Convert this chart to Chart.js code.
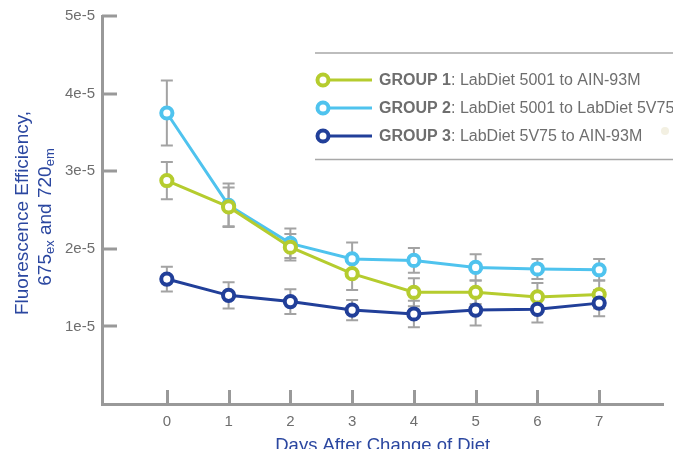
<!DOCTYPE html>
<html>
<head>
<meta charset="utf-8">
<script src="https://cdn.jsdelivr.net/npm/chart.js@4.4.0/dist/chart.umd.min.js"></script>
<style>
  html, body { margin: 0; padding: 0; background: #fff; }
  canvas { display: block; }
</style>
</head>
<body>
<canvas id="line-chart" width="673" height="449"></canvas>
<script>
var days = [0, 1, 2, 3, 4, 5, 6, 7];
var groupNames = ['GROUP 1', 'GROUP 2', 'GROUP 3'];
var groupDiets = [': LabDiet 5001 to AIN-93M', ': LabDiet 5001 to LabDiet 5V75', ': LabDiet 5V75 to AIN-93M'];
var group1 = [2.88e-5, 2.54e-5, 2.02e-5, 1.68e-5, 1.44e-5, 1.44e-5, 1.38e-5, 1.41e-5];
var group1Err = [0.24e-5, 0.25e-5, 0.17e-5, 0.21e-5, 0.18e-5, 0.15e-5, 0.18e-5, 0.18e-5];
var group2 = [3.75e-5, 2.56e-5, 2.07e-5, 1.87e-5, 1.85e-5, 1.76e-5, 1.74e-5, 1.73e-5];
var group2Err = [0.42e-5, 0.28e-5, 0.19e-5, 0.21e-5, 0.16e-5, 0.17e-5, 0.13e-5, 0.14e-5];
var group3 = [1.61e-5, 1.40e-5, 1.32e-5, 1.21e-5, 1.16e-5, 1.21e-5, 1.22e-5, 1.30e-5];
var group3Err = [0.16e-5, 0.17e-5, 0.16e-5, 0.13e-5, 0.17e-5, 0.20e-5, 0.17e-5, 0.17e-5];
var yTicks = [1e-5, 2e-5, 3e-5, 4e-5, 5e-5];
var yTickLabels = ['1e-5', '2e-5', '3e-5', '4e-5', '5e-5'];

var colors = ['#b5cc2e', '#4fc3ee', '#213f99'];
var axisGrey = '#999999';
var textGrey = '#6e6e6e';
var titleBlue = '#2b47a0';
var font = "'Liberation Sans', Arial, Helvetica, sans-serif";

var series = [group1, group2, group3];
var errors = [group1Err, group2Err, group3Err];
var drawOrder = [1, 2, 0]; // group 3 on top, then group 1

function points(vals) {
    return days.map(function (d, i) { return { x: d, y: vals[i] }; });
}

var decorations = {
    id: 'decorations',
    beforeDatasetsDraw: function (chart) {
        var ctx = chart.ctx, x = chart.scales.x, y = chart.scales.y;
        ctx.save();
        ctx.strokeStyle = '#a3a3a3';
        ctx.lineWidth = 2;
        for (var s = 0; s < series.length; s++) {
            for (var i = 0; i < days.length; i++) {
                var px = x.getPixelForValue(days[i]);
                var top = y.getPixelForValue(series[s][i] + errors[s][i]);
                var bot = y.getPixelForValue(series[s][i] - errors[s][i]);
                ctx.beginPath();
                ctx.moveTo(px, top); ctx.lineTo(px, bot);
                ctx.moveTo(px - 6, top); ctx.lineTo(px + 6, top);
                ctx.moveTo(px - 6, bot); ctx.lineTo(px + 6, bot);
                ctx.stroke();
            }
        }
        ctx.restore();
    },
    afterDraw: function (chart) {
        var ctx = chart.ctx, x = chart.scales.x, y = chart.scales.y;
        var area = chart.chartArea;
        ctx.save();
        // inside ticks
        ctx.strokeStyle = axisGrey;
        ctx.lineWidth = 3;
        yTicks.forEach(function (v) {
            var py = Math.round(y.getPixelForValue(v));
            ctx.beginPath(); ctx.moveTo(area.left, py); ctx.lineTo(area.left + 15, py); ctx.stroke();
        });
        days.forEach(function (d) {
            var px = Math.round(x.getPixelForValue(d)) + 0.5;
            ctx.beginPath(); ctx.moveTo(px, area.bottom); ctx.lineTo(px, area.bottom - 14); ctx.stroke();
        });

        // y axis title
        ctx.fillStyle = titleBlue;
        ctx.textBaseline = 'alphabetic';
        ctx.save();
        ctx.translate(27.5, 213);
        ctx.rotate(-Math.PI / 2);
        ctx.font = '19px ' + font;
        ctx.textAlign = 'center';
        ctx.fillText('Fluorescence Efficiency,', 0, 0);
        ctx.restore();

        var parts = [['675', false], ['ex', true], [' and 720', false], ['em', true]];
        ctx.save();
        ctx.translate(51, 217);
        ctx.rotate(-Math.PI / 2);
        ctx.textAlign = 'left';
        var total = 0;
        parts.forEach(function (p) {
            ctx.font = (p[1] ? '13px ' : '19px ') + font;
            total += ctx.measureText(p[0]).width;
        });
        var cx = -total / 2;
        parts.forEach(function (p) {
            ctx.font = (p[1] ? '13px ' : '19px ') + font;
            ctx.fillText(p[0], cx, p[1] ? 3 : 0);
            cx += ctx.measureText(p[0]).width;
        });
        ctx.restore();

        // x axis title
        ctx.font = '18.5px ' + font;
        ctx.textAlign = 'center';
        ctx.fillText('Days After Change of Diet', (area.left + area.right) / 2, 451);

        // legend
        ctx.strokeStyle = '#a8a8a8';
        ctx.lineWidth = 1.5;
        ctx.beginPath();
        ctx.moveTo(315, 53); ctx.lineTo(673, 53);
        ctx.moveTo(315, 159.5); ctx.lineTo(673, 159.5);
        ctx.stroke();
        var rows = [80, 108, 136];
        for (var k = 0; k < groupNames.length; k++) {
            var ry = rows[k];
            ctx.strokeStyle = colors[k];
            ctx.lineWidth = 3;
            ctx.beginPath(); ctx.moveTo(323, ry); ctx.lineTo(372, ry); ctx.stroke();
            ctx.lineWidth = 4;
            ctx.fillStyle = '#fff';
            ctx.beginPath(); ctx.arc(323, ry, 5.5, 0, Math.PI * 2); ctx.fill(); ctx.stroke();
            ctx.fillStyle = textGrey;
            ctx.textAlign = 'left';
            ctx.textBaseline = 'middle';
            ctx.font = 'bold 16px ' + font;
            ctx.fillText(groupNames[k], 379, ry + 0.5);
            var w = ctx.measureText(groupNames[k]).width;
            ctx.font = '16px ' + font;
            ctx.fillText(groupDiets[k], 379 + w, ry + 0.5);
        }
        ctx.fillStyle = '#f3f0e2';
        ctx.beginPath(); ctx.arc(665, 131, 4, 0, Math.PI * 2); ctx.fill();
        ctx.restore();
    }
};

new Chart(document.getElementById('line-chart').getContext('2d'), {
    type: 'line',
    data: {
        datasets: series.map(function (vals, i) {
            return {
                label: groupNames[i],
                data: points(vals),
                borderColor: colors[i],
                borderWidth: 3,
                pointBackgroundColor: '#ffffff',
                pointBorderColor: colors[i],
                pointBorderWidth: 4,
                pointRadius: 5.6,
                tension: 0,
                order: drawOrder[i]
            };
        })
    },
    options: {
        responsive: false,
        animation: false,
        events: [],
        layout: { padding: { top: 16, right: 0, left: 0, bottom: 0 } },
        plugins: { legend: { display: false }, tooltip: { enabled: false } },
        scales: {
            x: {
                type: 'linear',
                min: -1.05,
                max: 8.04,
                afterBuildTicks: function (s) { s.ticks = days.map(function (d) { return { value: d }; }); },
                afterFit: function (s) { s.height = 45; },
                grid: { display: false, drawTicks: false },
                border: { color: axisGrey, width: 3 },
                ticks: { color: textGrey, padding: 9, font: { family: font, size: 15 } }
            },
            y: {
                min: 0,
                max: 5e-5,
                afterBuildTicks: function (s) { s.ticks = yTicks.map(function (v) { return { value: v }; }); },
                afterFit: function (s) { s.width = 102; },
                grid: { display: false, drawTicks: false },
                border: { color: axisGrey, width: 3 },
                ticks: {
                    color: textGrey,
                    padding: 7,
                    font: { family: font, size: 15 },
                    callback: function (v, i) { return yTickLabels[i]; }
                }
            }
        }
    },
    plugins: [decorations]
});
</script>
</body>
</html>
